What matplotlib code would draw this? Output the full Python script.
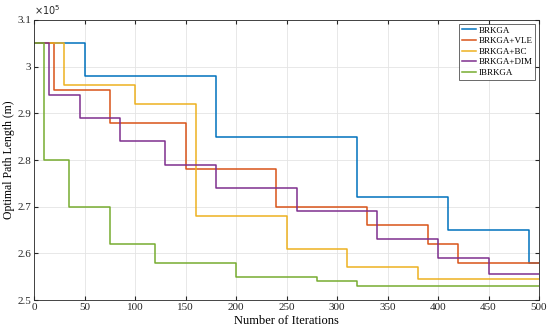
import matplotlib
matplotlib.use("Agg")
import matplotlib.pyplot as plt
from matplotlib.ticker import FuncFormatter

plt.rcParams['font.family'] = ['Liberation Serif', 'DejaVu Serif']

# step change points (iteration, path length in m)
brkga_x = [0, 50, 180, 320, 410, 490, 500]
brkga_y = [3.05e5, 2.98e5, 2.85e5, 2.72e5, 2.65e5, 2.58e5, 2.58e5]

vle_x = [0, 20, 75, 150, 240, 330, 390, 420, 500]
vle_y = [3.05e5, 2.95e5, 2.88e5, 2.78e5, 2.70e5, 2.66e5, 2.62e5, 2.58e5, 2.58e5]

bc_x = [0, 30, 100, 160, 250, 310, 380, 500]
bc_y = [3.05e5, 2.96e5, 2.92e5, 2.68e5, 2.61e5, 2.57e5, 2.545e5, 2.545e5]

dim_x = [0, 15, 45, 85, 130, 180, 260, 340, 400, 450, 500]
dim_y = [3.05e5, 2.94e5, 2.89e5, 2.84e5, 2.79e5, 2.74e5, 2.69e5, 2.63e5, 2.59e5, 2.555e5, 2.555e5]

ib_x = [0, 10, 35, 75, 120, 200, 280, 320, 500]
ib_y = [3.05e5, 2.80e5, 2.70e5, 2.62e5, 2.58e5, 2.55e5, 2.54e5, 2.53e5, 2.53e5]

labels = ["BRKGA", "BRKGA+VLE", "BRKGA+BC", "BRKGA+DIM", "IBRKGA"]
colors = ["#0072BD", "#D95319", "#EDB120", "#7E2F8E", "#77AC30"]

fig = plt.figure(figsize=(5.5, 3.33), dpi=100)
ax = fig.add_axes([0.062, 0.099, 0.918, 0.841])

series = [(brkga_x, brkga_y), (vle_x, vle_y), (bc_x, bc_y), (dim_x, dim_y), (ib_x, ib_y)]
for (x, y), lab, c in zip(series, labels, colors):
    ax.step(x, y, where="post", color=c, lw=1.1, label=lab)

ax.set_xlim(0, 500)
ax.set_ylim(2.5e5, 3.1e5)
ax.set_xticks(range(0, 501, 50))
ax.set_yticks([2.5e5 + i * 0.1e5 for i in range(7)])
ax.yaxis.set_major_formatter(FuncFormatter(lambda v, p: "%g" % round(v / 1e5, 2)))
ax.grid(True, color="#e4e4e4", lw=0.6)
ax.tick_params(direction="in", labelsize=8, colors="#262626", length=3, pad=2,
               top=True, right=True)
for s in ax.spines.values():
    s.set_color("#262626")
    s.set_linewidth(0.6)

ax.set_xlabel("Number of Iterations", fontsize=9, labelpad=2)
ax.set_ylabel("Optimal Path Length (m)", fontsize=8.5, labelpad=2)
ax.text(0.0, 1.01, r"$\times10^5$", transform=ax.transAxes, fontsize=7, color="#262626",
        ha="left", va="bottom")

leg = ax.legend(loc="upper right", fontsize=6.5, frameon=True, fancybox=False,
                edgecolor="#262626", handlelength=1.6, handletextpad=0.3,
                borderaxespad=0.4, labelspacing=0.25, borderpad=0.3)
leg.get_frame().set_linewidth(0.6)

fig.savefig("out.png", dpi=100)
